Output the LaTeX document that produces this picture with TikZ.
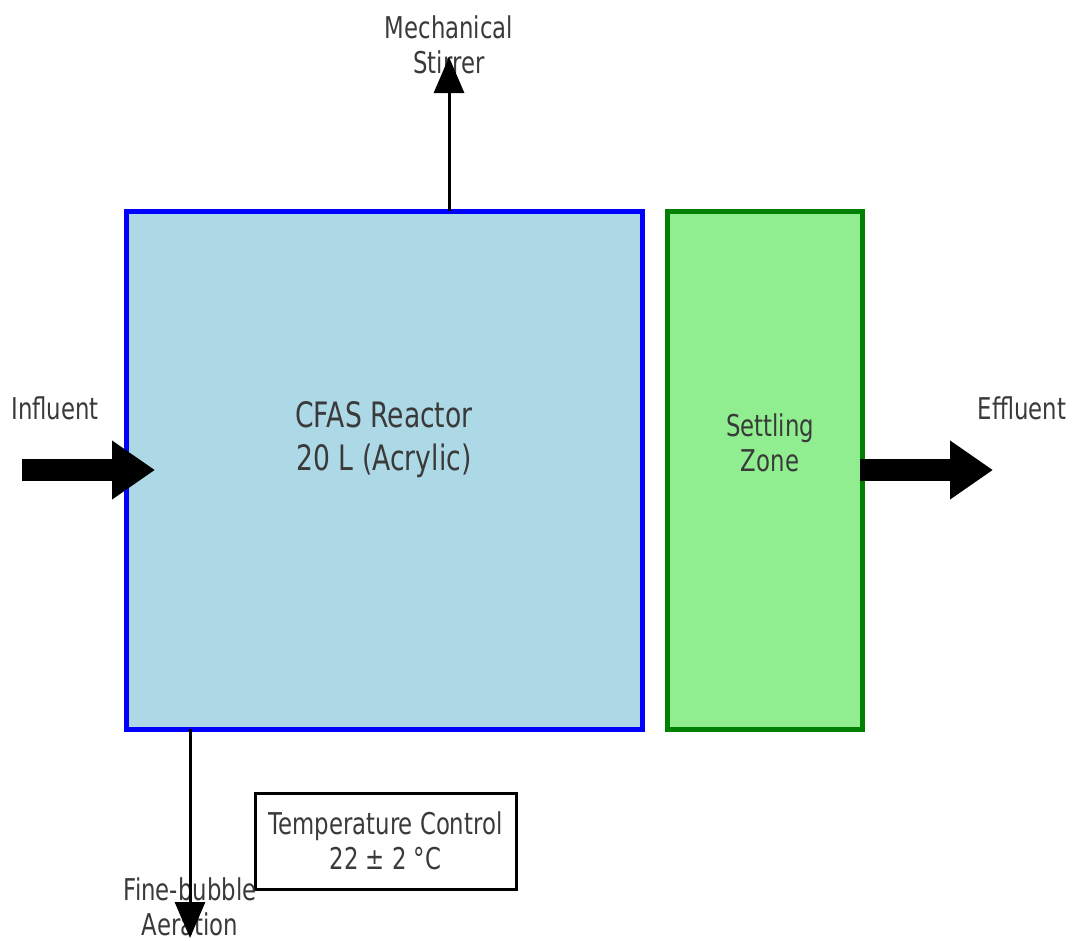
\documentclass[tikz,border=0pt]{standalone}
\usepackage{fontspec}
\setmainfont{DejaVu Sans}[FakeStretch=0.76]
\usetikzlibrary{arrows.meta}
\definecolor{txt}{HTML}{3A3A3A}
\definecolor{reactfill}{HTML}{ADD8E6}
\definecolor{settlefill}{HTML}{90EE90}
\definecolor{settledraw}{HTML}{008000}
\tikzset{
  lbl/.style={text=txt, align=center, inner sep=0pt, font=\fontsize{30}{35}\selectfont},
  tank/.style={line width=5pt, inner sep=0pt, outer sep=0pt, minimum height=518pt, anchor=north west},
  bigarrow/.style={line width=22pt, -{Triangle[length=43pt,width=56pt]}},
  thinarrow/.style={line width=3pt, -{Triangle[length=36pt,width=30pt]}},
}
\begin{document}
\begin{tikzpicture}[x=1pt,y=-1pt]
\useasboundingbox (0,0) rectangle (1073,940);
% tanks
\node (reactor) [tank, draw=blue, fill=reactfill, minimum width=516pt] at (126,211) {};
\node (settle) [tank, draw=settledraw, fill=settlefill, minimum width=195pt] at (667,211) {};
\node (reactorlbl) [lbl, font=\fontsize{35}{43}\selectfont] at (384,440) {CFAS Reactor\\20 L (Acrylic)};
\node (settlelbl) [lbl] at (770,443) {Settling\\Zone};
% temperature box
\node (temp) [draw=black, line width=3pt, outer sep=0pt, minimum width=261pt, minimum height=96pt, lbl] at (385.5,841) {Temperature Control\\22 ± 2 °C};
% labels
\node (influent) [lbl] at (55,408) {Influent};
\node (effluent) [lbl] at (1022,408) {Effluent};
\node (stirrer) [lbl] at (449,45) {Mechanical\\Stirrer};
\node (aeration) [lbl] at (190,907) {Fine-bubble\\Aeration};
% arrows
\coordinate (inStart) at (22,470);
\coordinate (inEnd) at (155,470);
\coordinate (outEnd) at (993,470);
\coordinate (stirTip) at (449,57);
\coordinate (aerTip) at (190,938);
\draw[bigarrow] (inStart) -- (inEnd);
\draw[bigarrow] (settle.east |- inEnd) ++(-2,0) -- (outEnd);
\draw[thinarrow] (reactor.north -| stirTip) -- (stirTip);
\draw[thinarrow] (reactor.south -| aerTip) -- (aerTip);
\end{tikzpicture}
\end{document}
